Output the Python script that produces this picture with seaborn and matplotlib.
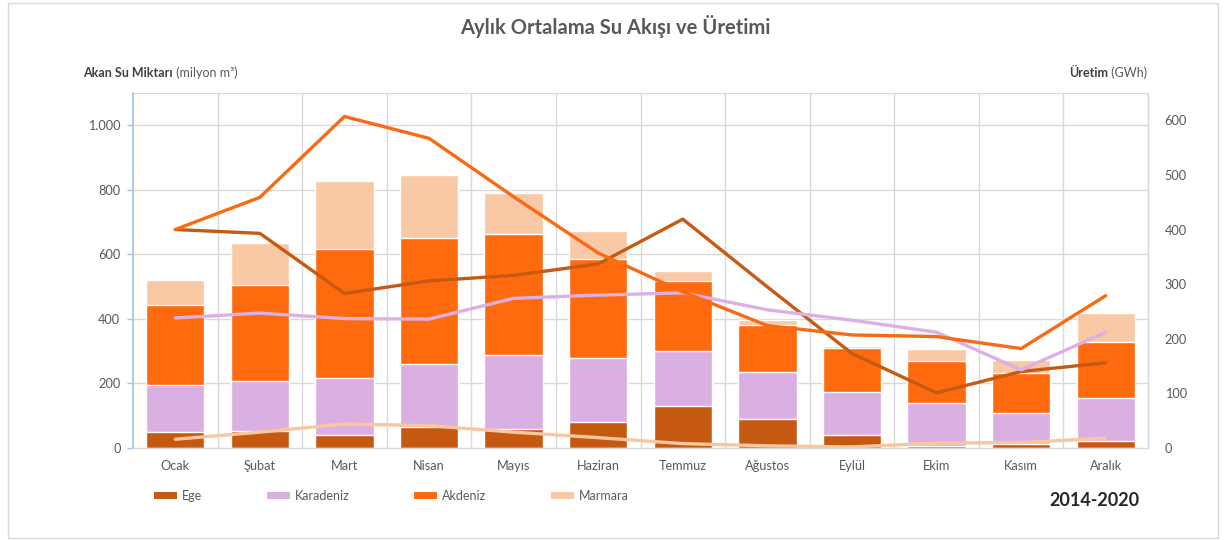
import numpy as np
import matplotlib
matplotlib.use("Agg")
import matplotlib.pyplot as plt
from matplotlib.patches import Rectangle, Patch
from matplotlib.ticker import FuncFormatter, FixedLocator
import seaborn as sns

# ---------------- data ----------------
months = ["Ocak", "Şubat", "Mart", "Nisan", "Mayıs", "Haziran",
          "Temmuz", "Ağustos", "Eylül", "Ekim", "Kasım", "Aralık"]
regions = ["Ege", "Karadeniz", "Akdeniz", "Marmara"]

# monthly average water flow (million m3), stacked segments
flow_ege = [50, 53, 39, 64, 58, 81, 129, 91, 41, 6, 11, 21]
flow_karadeniz = [145, 156, 179, 197, 229, 199, 171, 146, 134, 134, 99, 133]
flow_akdeniz = [247, 296, 400, 391, 375, 306, 216, 145, 135, 130, 122, 176]
flow_marmara = [79, 131, 209, 195, 129, 87, 34, 15, 7, 37, 41, 87]

# monthly average generation (GWh)
gen_ege = [400, 393, 283, 306, 316, 337, 419, 295, 173, 101, 140, 156]
gen_karadeniz = [238, 247, 237, 236, 274, 280, 284, 253, 234, 212, 143, 212]
gen_akdeniz = [400, 459, 607, 567, 460, 357, 286, 224, 207, 204, 182, 279]
gen_marmara = [16, 29, 44, 41, 29, 19, 8, 4, 2, 9, 10, 18]

left_ticks = [0, 200, 400, 600, 800, 1000]
right_ticks = [0, 100, 200, 300, 400, 500, 600]

title = "Aylık Ortalama Su Akışı ve Üretimi"
period = "2014-2020"

# ---------------- style ----------------
colors = {"Ege": "#C65911", "Karadeniz": "#DAAFE1",
          "Akdeniz": "#FF6A0E", "Marmara": "#F9C8A4"}
line_colors = {"Ege": "#C75A12", "Karadeniz": "#DCB0E4",
               "Akdeniz": "#FA6A14", "Marmara": "#FAC6A0"}
grey_text = "#595959"
grid_col = "#D9D9D9"

sns.set_theme(style="white")
plt.rcParams["font.family"] = ["Lato", "DejaVu Sans"]

W, H = 1225, 540
fig = plt.figure(figsize=(W / 100, H / 100), dpi=100)
fig.patch.set_facecolor("white")

ax_l, ax_r, ax_b, ax_t = 133, 1148, 448, 93
ax = fig.add_axes([ax_l / W, 1 - ax_b / H, (ax_r - ax_l) / W, (ax_b - ax_t) / H])

# stacked bars drawn as cumulative layers (largest first)
segments = [flow_ege, flow_karadeniz, flow_akdeniz, flow_marmara]
cum = np.cumsum(np.array(segments), axis=0)
for i in range(len(regions) - 1, -1, -1):
    sns.barplot(x=months, y=cum[i], color=colors[regions[i]], width=0.69,
                edgecolor="white", linewidth=1.0, saturation=1, ax=ax, zorder=2)

ax.set_xlim(-0.5, len(months) - 0.5)
ax.set_ylim(0, 1100)
ax.yaxis.set_major_locator(FixedLocator(left_ticks))
ax.yaxis.set_major_formatter(FuncFormatter(lambda v, p: f"{int(v):,}".replace(",", ".")))
ax.set_xlabel("")
ax.set_ylabel("")
ax.set_axisbelow(True)

# gridlines
for v in left_ticks[1:]:
    ax.axhline(v, color=grid_col, lw=1, zorder=0)
ax.axhline(1100, color=grid_col, lw=1, zorder=0)
for b in np.arange(-0.5, len(months), 1.0)[1:]:
    ax.axvline(b, color=grid_col, lw=1, zorder=0)

for s in ["top", "right"]:
    ax.spines[s].set_visible(False)
ax.spines["left"].set_color("#9DC3E6")
ax.spines["left"].set_linewidth(1.2)
ax.spines["bottom"].set_color(grid_col)
ax.spines["bottom"].set_linewidth(1)
ax.tick_params(axis="y", colors=grey_text, labelsize=9.2, length=4, width=1,
               color="#9DC3E6", pad=5, left=True)
ax.tick_params(axis="x", colors=grey_text, labelsize=9.2, length=0, pad=9)

# secondary axis with production lines
ax2 = ax.twinx()
xpos = np.arange(len(months))
gens = [gen_ege, gen_karadeniz, gen_akdeniz, gen_marmara]
for reg, g in zip(regions, gens):
    sns.lineplot(x=xpos, y=g, color=line_colors[reg], lw=2.4, ax=ax2,
                 sort=False, legend=False)
ax2.set_ylim(0, 650)
ax2.yaxis.set_major_locator(FixedLocator(right_ticks))
ax2.set_ylabel("")
for s in ["top", "left", "bottom"]:
    ax2.spines[s].set_visible(False)
ax2.spines["right"].set_color(grid_col)
ax2.spines["right"].set_linewidth(1)
ax2.tick_params(axis="y", colors=grey_text, labelsize=9.2, length=0, pad=12, right=True)
ax2.grid(False)

# title
fig.text(615 / W, 1 - 27 / H, title, ha="center", va="center",
         fontsize=14.5, fontweight="bold", color=grey_text)

# axis titles
t1 = fig.text(83 / W, 1 - 79 / H, "Akan Su Miktarı", ha="left", va="bottom",
              fontsize=9, fontweight="bold", color="#404040")
fig.add_artist(plt.Annotation(" (milyon m³)", xy=(1, 0), xycoords=t1,
                              ha="left", va="bottom", fontsize=9, color=grey_text))
t2 = fig.text(1147 / W, 1 - 79 / H, " (GWh)", ha="right", va="bottom",
              fontsize=9, color=grey_text)
fig.add_artist(plt.Annotation("Üretim", xy=(0, 0), xycoords=t2,
                              ha="right", va="bottom", fontsize=9,
                              fontweight="bold", color="#404040"))

# legend
handles = [Patch(facecolor=colors[r], edgecolor="none", label=r) for r in regions]
fig.legend(handles=handles, loc="center left", bbox_to_anchor=(143 / W, 1 - 496 / H),
           ncol=4, frameon=False, fontsize=9, handlelength=1.85, handleheight=0.4,
           handletextpad=0.35, columnspacing=5.2, labelcolor=grey_text)

# period label
fig.text(1140 / W, 1 - 501 / H, period, ha="right", va="center",
         fontsize=13, fontweight="bold", color="#262626")

# outer border
fig.add_artist(Rectangle((8 / W, 2 / H), 1210 / W, 535 / H, transform=fig.transFigure,
                         fill=False, edgecolor="#D9D9D9", lw=1))

fig.savefig("out.png", dpi=100)
